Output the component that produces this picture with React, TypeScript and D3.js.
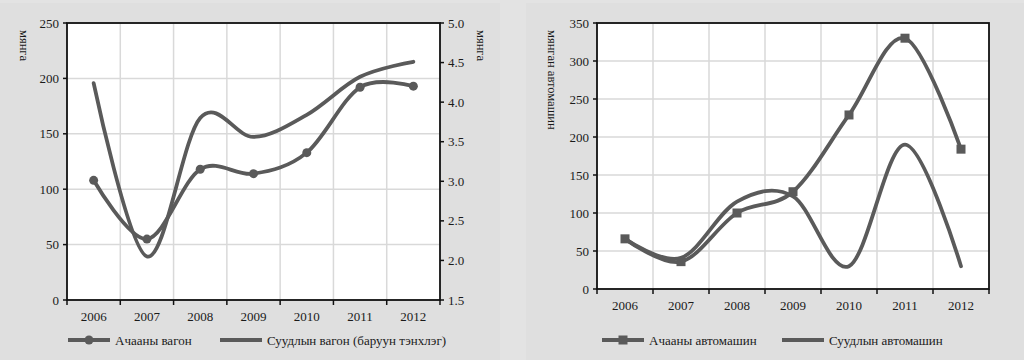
import React from "react";
import * as d3 from "d3";

const years = ["2006", "2007", "2008", "2009", "2010", "2011", "2012"];
const freightWagons = [108, 55, 118, 114, 133, 192, 193];
const passengerWagons = [4.24, 2.05, 3.8, 3.56, 3.84, 4.32, 4.51];
const leftTicks = [0, 50, 100, 150, 200, 250];
const rightTicks = [1.5, 2.0, 2.5, 3.0, 3.5, 4.0, 4.5, 5.0];
const freightTrucks = [66, 36, 100, 128, 229, 330, 184];
const passengerCars = [66, 41, 115, 122, 30, 190, 30];
const carTicks = [0, 50, 100, 150, 200, 250, 300, 350];

const LINE = "#5a5a5a";
const GRID = "#d9d9d9";
const BG = "#dfdfdf";
const FONT = "'Liberation Serif', 'Times New Roman', serif";

function Panel({ x0, x1, y0, y1, yTicks, yDomain, y2Ticks, y2Domain, series, yTitle, y2Title, fmt2, legendY, legendItems, xLabelY }: any) {
  const x = d3.scaleBand().domain(years).range([x0, x1]).padding(0);
  const y = d3.scaleLinear().domain(yDomain).range([y1, y0]);
  const y2 = y2Domain ? d3.scaleLinear().domain(y2Domain).range([y1, y0]) : null;
  const cx = (d: string) => (x(d) as number) + x.bandwidth() / 2;
  const bounds = years.map((d) => x(d) as number).concat([x1]);
  return (
    <g fontFamily={FONT}>
      <rect x={x0} y={y0} width={x1 - x0} height={y1 - y0} fill="#fff" />
      {yTicks.map((t: number) => (
        <line key={"h" + t} x1={x0} x2={x1} y1={y(t)} y2={y(t)} stroke={GRID} strokeWidth={1.5} />
      ))}
      {bounds.slice(1, -1).map((b: number, i: number) => (
        <line key={"v" + i} x1={b} x2={b} y1={y0} y2={y1} stroke={GRID} strokeWidth={1.5} />
      ))}
      <rect x={x0} y={y0} width={x1 - x0} height={y1 - y0} fill="none" stroke="#111" strokeWidth={1.8} />
      {yTicks.map((t: number) => (
        <g key={"yt" + t}>
          <line x1={x0 - 4} x2={x0} y1={y(t)} y2={y(t)} stroke="#111" strokeWidth={1.5} />
          <text x={x0 - 8} y={y(t)} dy="0.35em" textAnchor="end" fontSize={13} fill="#1a1a1a">{t}</text>
        </g>
      ))}
      {y2 && y2Ticks.map((t: number) => (
        <g key={"y2t" + t}>
          <line x1={x1} x2={x1 + 4} y1={y2(t)} y2={y2(t)} stroke="#111" strokeWidth={1.5} />
          <text x={x1 + 8} y={y2(t)} dy="0.35em" textAnchor="start" fontSize={13} fill="#1a1a1a">{fmt2(t)}</text>
        </g>
      ))}
      {bounds.map((b: number, i: number) => (
        <line key={"xt" + i} x1={b} x2={b} y1={y1} y2={y1 + 5} stroke="#111" strokeWidth={1.5} />
      ))}
      {years.map((d) => (
        <text key={"xl" + d} x={cx(d)} y={xLabelY} dy="0.35em" textAnchor="middle" fontSize={13} fill="#1a1a1a">{d}</text>
      ))}
      {yTitle && (
        <text transform={`translate(${yTitle.x},${y0 + 7}) rotate(90)`} fontSize={12.5} fill="#1a1a1a" textAnchor="start" dy="0.35em">{yTitle.text}</text>
      )}
      {y2Title && (
        <text transform={`translate(${y2Title.x},${y0 + 7}) rotate(90)`} fontSize={12.5} fill="#1a1a1a" textAnchor="start" dy="0.35em">{y2Title.text}</text>
      )}
      {series.map((s: any, si: number) => {
        const sc = s.right ? y2 : y;
        const line = d3.line<number>().x((_, i) => cx(years[i])).y((v) => (sc as any)(v)).curve(d3.curveCardinal.tension(0));
        return (
          <g key={"s" + si}>
            <path d={line(s.values) as string} fill="none" stroke={LINE} strokeWidth={3.8} strokeLinecap="round" />
            {s.marker === "circle" && s.values.map((v: number, i: number) => (
              <circle key={i} cx={cx(years[i])} cy={(sc as any)(v)} r={4.5} fill={LINE} />
            ))}
            {s.marker === "square" && s.values.map((v: number, i: number) => (
              <rect key={i} x={cx(years[i]) - 4.5} y={(sc as any)(v) - 4.5} width={9} height={9} fill={LINE} />
            ))}
          </g>
        );
      })}
      {legendItems.map((it: any, i: number) => (
        <g key={"lg" + i}>
          <line x1={it.x} x2={it.x + 42} y1={legendY} y2={legendY} stroke={LINE} strokeWidth={3.8} />
          {it.marker === "circle" && <circle cx={it.x + 21} cy={legendY} r={4.5} fill={LINE} />}
          {it.marker === "square" && <rect x={it.x + 16.5} y={legendY - 4.5} width={9} height={9} fill={LINE} />}
          <text x={it.x + 47} y={legendY} dy="0.35em" fontSize={13} fill="#1a1a1a">{it.label}</text>
        </g>
      ))}
    </g>
  );
}

export default function App() {
  return (
    <svg width={1024} height={360} style={{ position: "absolute", left: 0, top: 0 }}>
      <rect x={0} y={0} width={1024} height={360} fill="#e3e3e3" />
      <rect x={0} y={3} width={500} height={357} fill={BG} />
      <rect x={526} y={3} width={498} height={357} fill={BG} />
      <Panel
        x0={67} x1={440} y0={23} y1={300}
        yTicks={leftTicks} yDomain={[0, 250]}
        y2Ticks={rightTicks} y2Domain={[1.5, 5.0]} fmt2={(t: number) => t.toFixed(1)}
        series={[
          { values: freightWagons, marker: "circle" },
          { values: passengerWagons, right: true },
        ]}
        yTitle={{ x: 24, text: "мянга" }}
        y2Title={{ x: 481, text: "мянга" }}
        xLabelY={316}
        legendY={340}
        legendItems={[
          { x: 68, label: "Ачааны вагон", marker: "circle" },
          { x: 220, label: "Суудлын вагон (баруун тэнхлэг)" },
        ]}
      />
      <Panel
        x0={597} x1={989} y0={23} y1={289}
        yTicks={carTicks} yDomain={[0, 350]}
        series={[
          { values: freightTrucks, marker: "square" },
          { values: passengerCars },
        ]}
        yTitle={{ x: 552, text: "мянган автомашин" }}
        xLabelY={305}
        legendY={340}
        legendItems={[
          { x: 602, label: "Ачааны автомашин", marker: "square" },
          { x: 782, label: "Суудлын автомашин" },
        ]}
      />
    </svg>
  );
}
